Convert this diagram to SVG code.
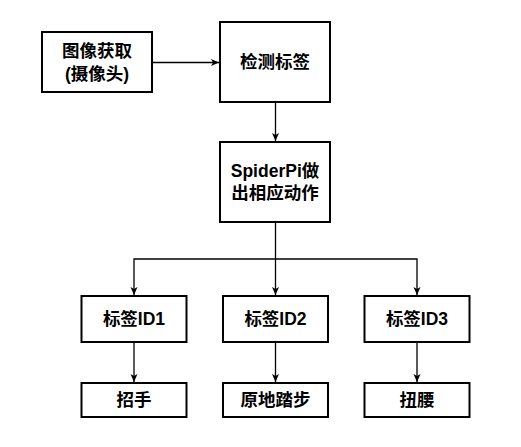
<svg xmlns="http://www.w3.org/2000/svg" width="521" height="447" viewBox="0 0 521 447">
<defs>
<marker id="ah" markerWidth="10" markerHeight="10" refX="9" refY="5" orient="auto" markerUnits="userSpaceOnUse">
<path d="M1,1.5 L9,5 L1,8.5 L3,5 Z" fill="#000"/>
</marker>
<style>
rect{fill:#fff;stroke:#000;stroke-width:2}
text{font-family:"Liberation Sans","Noto Sans CJK SC",sans-serif;font-size:17.5px;font-weight:bold;fill:#000;text-anchor:middle;dominant-baseline:central}
.c{fill:none;stroke:#000;stroke-width:1.3;marker-end:url(#ah)}
</style>
</defs>
<g id="connectors">
<path class="c" d="M152,62.5 H219"/>
<path class="c" d="M275.5,102 V141"/>
<path class="c" d="M275.5,222 V295"/>
<path class="c" d="M275.5,259 H134 V295"/>
<path class="c" d="M275.5,259 H417 V295"/>
<path class="c" d="M134,342 V382"/>
<path class="c" d="M275.5,342 V382"/>
<path class="c" d="M417,342 V382"/>
</g>
<g id="n1"><rect x="42" y="32" width="110" height="60"/><text x="97" y="51">图像获取</text><text x="97" y="74">(摄像头)</text></g>
<g id="n2"><rect x="220" y="22" width="110" height="80"/><text x="275" y="62">检测标签</text></g>
<g id="n3"><rect x="220" y="142" width="110" height="80"/><text x="275" y="171">SpiderPi做</text><text x="275" y="193">出相应动作</text></g>
<g id="n4"><rect x="81.5" y="296" width="105" height="46"/><text x="134" y="319">标签ID1</text></g>
<g id="n5"><rect x="223" y="296" width="105" height="46"/><text x="275.5" y="319">标签ID2</text></g>
<g id="n6"><rect x="364.5" y="296" width="105" height="46"/><text x="417" y="319">标签ID3</text></g>
<g id="n7"><rect x="81.5" y="383" width="105" height="34"/><text x="134" y="400">招手</text></g>
<g id="n8"><rect x="223" y="383" width="105" height="34"/><text x="275.5" y="400">原地踏步</text></g>
<g id="n9"><rect x="364.5" y="383" width="105" height="34"/><text x="417" y="400">扭腰</text></g>
</svg>
